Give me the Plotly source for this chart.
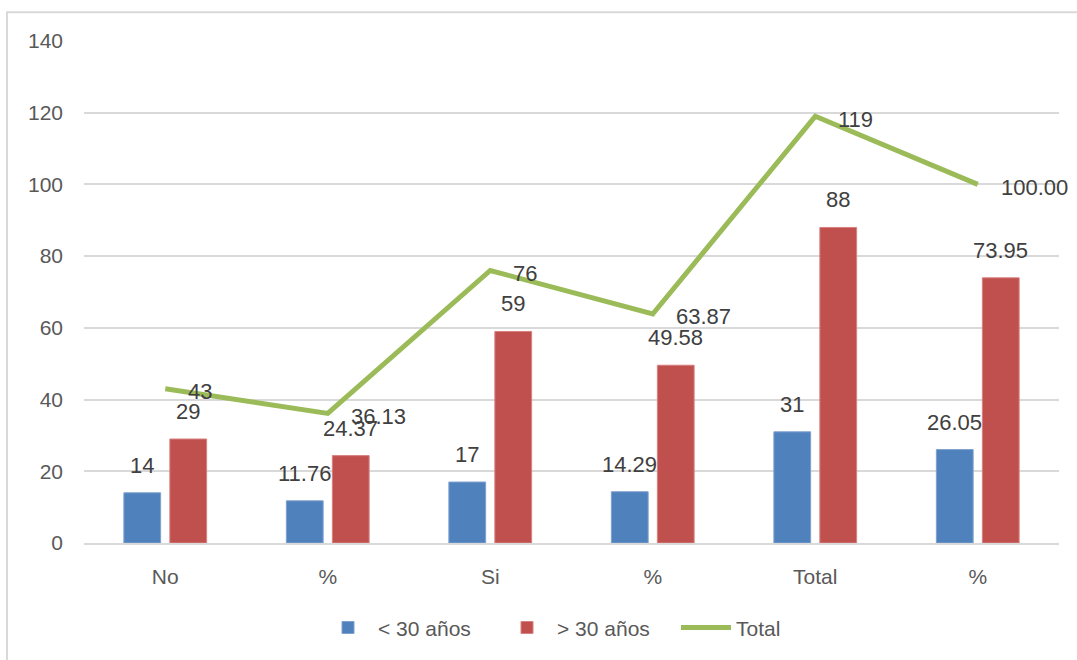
import plotly.graph_objects as go

categories = ['No', '%', 'Si', '%', 'Total', '%']
menores_30 = [14, 11.76, 17, 14.29, 31, 26.05]
mayores_30 = [29, 24.37, 59, 49.58, 88, 73.95]
total = [43, 36.13, 76, 63.87, 119, 100.00]
es_porcentaje = [False, True, False, True, False, True]

def fmt(vals):
  return ['{:.2f}'.format(v) if p else '{:.0f}'.format(v) for v, p in zip(vals, es_porcentaje)]

x = list(range(len(categories)))

azul = '#4F81BD'
rojo = '#C0504D'
verde = '#9BBB59'
font = 'Liberation Sans'
txt = '#404040'
lbl_font = dict(size = 22, color = txt, family = font)

fig = go.Figure()

fig.add_trace(go.Bar(
  x = x,
  y = menores_30,
  name = '< 30 años',
  marker = dict(color = azul, line = dict(color = '#7FA0CF', width = 1)),
))

fig.add_trace(go.Bar(
  x = x,
  y = mayores_30,
  name = '> 30 años',
  marker = dict(color = rojo, line = dict(color = '#D88080', width = 1)),
))

fig.add_trace(go.Scatter(
  x = x,
  y = total,
  name = 'Total',
  mode = 'lines',
  line = dict(color = verde, width = 5),
  cliponaxis = False
))

bargap = 0.434
slot = (1 - bargap) / 2

# etiquetas de las barras, encima de cada barra
for serie, offset in ((menores_30, -slot / 2), (mayores_30, slot / 2)):
  for xi, v, t in zip(x, serie, fmt(serie)):
    fig.add_annotation(
      x = xi + offset, y = v, text = t,
      showarrow = False, yanchor = 'bottom', yshift = 13,
      font = lbl_font
    )

# etiquetas de la linea, a la derecha de cada punto
for xi, v, t in zip(x, total, fmt(total)):
  fig.add_annotation(
    x = xi, y = v, text = t,
    showarrow = False, xanchor = 'left', yanchor = 'middle',
    xshift = 21, yshift = -3,
    font = lbl_font
  )

# borde del grafico
fig.add_shape(
  type = 'rect', xref = 'paper', yref = 'paper',
  x0 = -0.079, x1 = 1.05, y0 = -0.3, y1 = 1.0575,
  line = dict(color = '#D9D9D9', width = 2), layer = 'below'
)

fig.update_layout(
  width = 1077,
  height = 660,
  plot_bgcolor = '#ffffff',
  paper_bgcolor = '#ffffff',
  barmode = 'group',
  bargap = bargap,
  bargroupgap = 0.2,
  margin = dict(l = 84, r = 18, t = 41, b = 115),
  font = dict(family = font, size = 21, color = '#595959'),
  showlegend = True,
  legend = dict(
    orientation = 'h', x = 0.24, xanchor = 'left',
    y = -0.169, yanchor = 'middle',
    font = dict(size = 21, color = '#595959'),
    itemwidth = 50,
    entrywidth = 114
  )
)

fig.update_xaxes(
  tickvals = x,
  ticktext = categories,
  range = [-0.5, len(categories) - 0.5],
  showgrid = False,
  showline = True,
  linecolor = '#D9D9D9',
  linewidth = 2,
  ticks = '',
  ticklabelstandoff = 14,
  zeroline = False,
  automargin = False
)

fig.update_yaxes(
  range = [0, 140],
  dtick = 20,
  showgrid = True,
  gridcolor = '#D9D9D9',
  gridwidth = 2,
  zeroline = False,
  showline = False,
  ticks = '',
  ticklabelstandoff = 20,
  automargin = False
)

fig.write_html(
  'out.html',
  config = {'displayModeBar': False},
  post_script = "document.body.style.margin = '0px';"
)
